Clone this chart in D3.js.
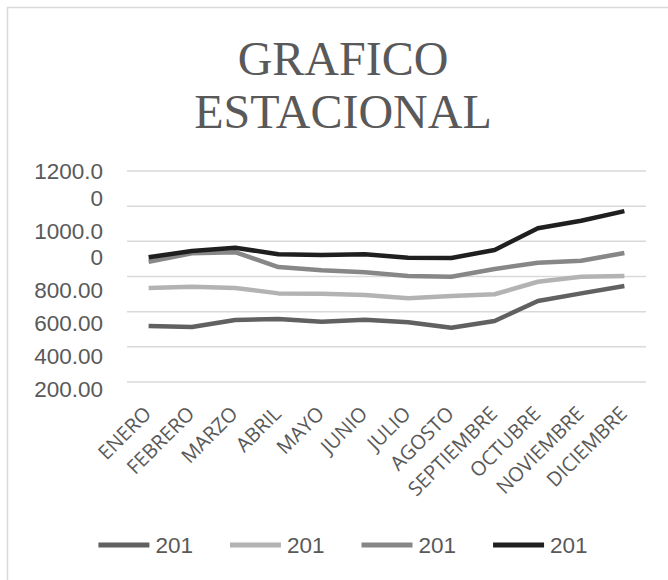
<!DOCTYPE html>
<html>
<head>
<meta charset="utf-8">
<script src="https://cdn.jsdelivr.net/npm/d3@7"></script>
<style>
	body { margin: 0; background: #fff; }
	svg { display: block; }
</style>
</head>
<body>
<script>
const months = ['ENERO', 'FEBRERO', 'MARZO', 'ABRIL', 'MAYO', 'JUNIO', 'JULIO', 'AGOSTO', 'SEPTIEMBRE', 'OCTUBRE', 'NOVIEMBRE', 'DICIEMBRE']
const seriesNames = ['201', '201', '201', '201']
const serie1 = [318, 313, 353, 358, 343, 354, 340, 309, 347, 461, 504, 546]
const serie2 = [535, 542, 535, 504, 502, 495, 476, 489, 499, 570, 599, 603]
const serie3 = [684, 732, 738, 654, 635, 624, 603, 599, 643, 678, 690, 734]
const serie4 = [709, 745, 764, 726, 722, 726, 707, 705, 751, 874, 917, 972]
const gridTicks = [0, 200, 400, 600, 800, 1000, 1200]
const labelTicks = [1200, 1000, 800, 600, 400, 200]
const titleLines = ['GRAFICO', 'ESTACIONAL']

const width = 668
const height = 580
const centerX = 343
const colors = ['#616161', '#b3b3b3', '#878787', '#1f1f1f']
const TEXT_COLOR = '#595959'
const LABEL_FONT = 22.5
const LABEL_CHARS = 6

const series = [serie1, serie2, serie3, serie4].map((values, i) => ({
	name: seriesNames[i],
	color: colors[i],
	values: values
}))

const scaleX = d3.scalePoint()
	.domain(months)
	.range([127, 646])
	.padding(0.5)

const scaleY = d3.scaleLinear()
	.domain([0, 1200])
	.range([382, 171])

function translate(x, y) {
	return `translate(${x}, ${y})`
}

const svg = d3.select('body').append('svg')
	.attr('width', width)
	.attr('height', height)

// chart frame (runs off the right and bottom edges)
svg.append('rect')
	.attr('x', 7.5)
	.attr('y', 7.5)
	.attr('width', width + 20)
	.attr('height', height + 20)
	.attr('fill', '#fff')
	.attr('stroke', '#d9d9d9')
	.attr('stroke-width', 1.5)

// title
svg.append('g')
	.attr('class', 'title')
	.selectAll('text')
	.data(titleLines)
	.enter().append('text')
		.attr('x', centerX)
		.attr('y', (d, i) => 75 + i * 52.5)
		.attr('text-anchor', 'middle')
		.style('font-family', '"Liberation Serif", "Times New Roman", serif')
		.style('font-size', '48px')
		.style('fill', TEXT_COLOR)
		.text(d => d)

// gridlines
svg.append('g')
	.attr('class', 'grid')
	.selectAll('line')
	.data(gridTicks)
	.enter().append('line')
		.attr('x1', scaleX.range()[0])
		.attr('x2', scaleX.range()[1])
		.attr('y1', d => scaleY(d))
		.attr('y2', d => scaleY(d))
		.attr('stroke', '#d9d9d9')
		.attr('stroke-width', 1.5)

// y labels: wrapped at 6 characters, stacked from the top gridline
const fmt = d3.format('.2f')
let cursor = scaleY(labelTicks[0]) + 8
const yLines = []
labelTicks.forEach((t, i) => {
	const s = fmt(t)
	const parts = []
	for (let k = 0; k < s.length; k += LABEL_CHARS) parts.push(s.slice(k, k + LABEL_CHARS))
	if (i > 0) cursor += 33
	parts.forEach((p, j) => {
		if (j > 0) cursor += 26.5
		yLines.push({ text: p, y: cursor })
	})
})

svg.append('g')
	.attr('class', 'axis axis--y')
	.selectAll('text')
	.data(yLines)
	.enter().append('text')
		.attr('x', 103)
		.attr('y', d => d.y)
		.attr('text-anchor', 'end')
		.style('font-family', '"Liberation Sans", Arial, sans-serif')
		.style('font-size', LABEL_FONT + 'px')
		.style('fill', TEXT_COLOR)
		.text(d => d.text)

// x labels rotated -45
svg.append('g')
	.attr('class', 'axis axis--x')
	.selectAll('text')
	.data(months)
	.enter().append('text')
		.attr('transform', d => translate(scaleX(d) + 4, 415) + ' rotate(-45)')
		.attr('text-anchor', 'end')
		.style('font-family', '"Open Sans", sans-serif')
		.style('font-size', '20px')
		.style('fill', TEXT_COLOR)
		.text(d => d)

// series lines
const line = d3.line()
	.x((d, i) => scaleX(months[i]))
	.y(d => scaleY(d))

svg.append('g')
	.attr('class', 'lines')
	.selectAll('path')
	.data(series)
	.enter().append('path')
		.attr('d', d => line(d.values))
		.attr('fill', 'none')
		.attr('stroke', d => d.color)
		.attr('stroke-width', 4.5)
		.attr('stroke-linejoin', 'round')

// legend, centred under the chart
const legend = svg.append('g').attr('class', 'legend')
const SWATCH = 51
const GAP = 6
const SPACING = 37
const item = legend.selectAll('g')
	.data(series)
	.enter().append('g')

item.append('line')
	.attr('x1', 0)
	.attr('x2', SWATCH)
	.attr('y1', 545)
	.attr('y2', 545)
	.attr('stroke', d => d.color)
	.attr('stroke-width', 5)

item.append('text')
	.attr('x', SWATCH + GAP)
	.attr('y', 553)
	.style('font-family', '"Liberation Sans", Arial, sans-serif')
	.style('font-size', LABEL_FONT + 'px')
	.style('fill', TEXT_COLOR)
	.text(d => d.name)

const widths = item.nodes().map(n => SWATCH + GAP + d3.select(n).select('text').node().getComputedTextLength())
const total = d3.sum(widths) + SPACING * (widths.length - 1)
let lx = centerX - total / 2
item.attr('transform', (d, i) => {
	const x = lx
	lx += widths[i] + SPACING
	return translate(x, 0)
})
</script>
</body>
</html>
